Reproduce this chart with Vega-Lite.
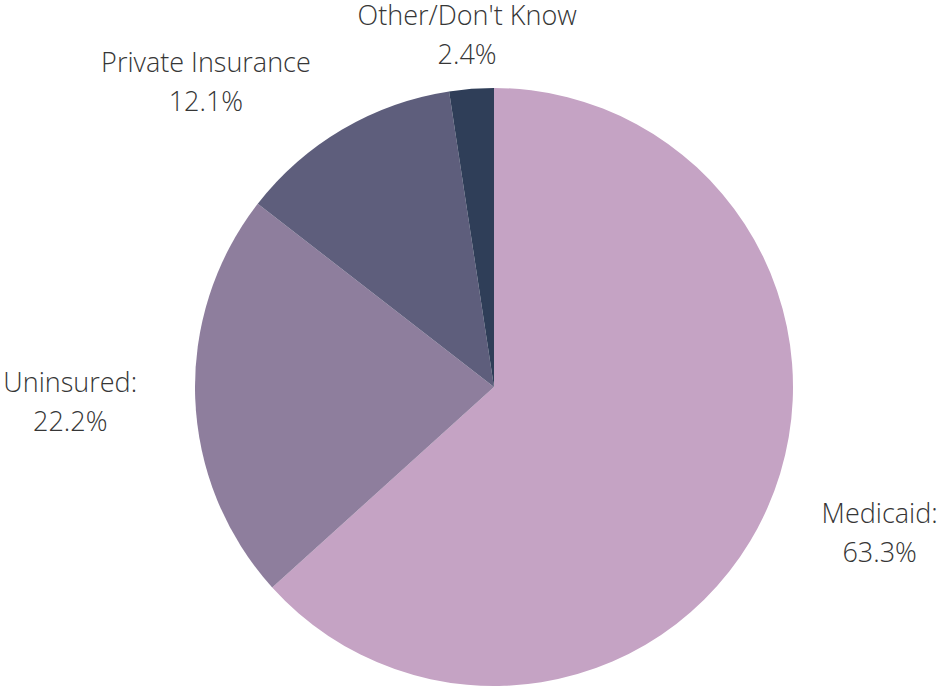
{
  "$schema": "https://vega.github.io/schema/vega-lite/v6.json",
  "width": 890,
  "height": 610,
  "padding": {"left": 49, "top": 82, "right": 0, "bottom": 0},
  "autosize": "none",
  "background": "white",
  "data": {
    "values": [
      {"group": "Medicaid", "share": 63.3, "label": "Medicaid:\n63.3%"},
      {"group": "Uninsured", "share": 22.2, "label": "Uninsured:\n22.2%"},
      {"group": "Private Insurance", "share": 12.1, "label": "Private Insurance\n12.1%"},
      {"group": "Other/Don't Know", "share": 2.4, "label": "Other/Don't Know\n2.4%"}
    ]
  },
  "encoding": {
    "theta": {"field": "share", "type": "quantitative", "stack": true},
    "order": {"field": "share", "type": "quantitative", "sort": "descending"}
  },
  "layer": [
    {
      "mark": {"type": "arc", "outerRadius": 299},
      "encoding": {
        "color": {
          "field": "group",
          "type": "nominal",
          "legend": null,
          "scale": {
            "domain": ["Medicaid", "Uninsured", "Private Insurance", "Other/Don't Know"],
            "range": ["#c5a3c4", "#8e7e9d", "#5e5e7c", "#2f3e58"]
          }
        }
      }
    },
    {
      "mark": {"type": "text", "radius": 330, "dx": 84, "dy": -6, "align": "center", "baseline": "middle", "lineBreak": "\n", "font": "Open Sans", "fontWeight": 300, "fontSize": 27, "lineHeight": 39, "color": "#363636"},
      "encoding": {"text": {"condition": {"test": "datum.group == 'Medicaid'", "field": "label"}, "value": ""}}
    },
    {
      "mark": {"type": "text", "radius": 330, "dx": -94, "dy": -15, "align": "center", "baseline": "middle", "lineBreak": "\n", "font": "Open Sans", "fontWeight": 300, "fontSize": 27, "lineHeight": 39, "color": "#363636"},
      "encoding": {"text": {"condition": {"test": "datum.group == 'Uninsured'", "field": "label"}, "value": ""}}
    },
    {
      "mark": {"type": "text", "radius": 330, "dx": -121, "dy": -38, "align": "center", "baseline": "middle", "lineBreak": "\n", "font": "Open Sans", "fontWeight": 300, "fontSize": 27, "lineHeight": 39, "color": "#363636"},
      "encoding": {"text": {"condition": {"test": "datum.group == 'Private Insurance'", "field": "label"}, "value": ""}}
    },
    {
      "mark": {"type": "text", "radius": 330, "dx": -2, "dy": -41, "align": "center", "baseline": "middle", "lineBreak": "\n", "font": "Open Sans", "fontWeight": 300, "fontSize": 27, "lineHeight": 39, "color": "#363636"},
      "encoding": {"text": {"condition": {"test": "datum.group == \"Other/Don't Know\"", "field": "label"}, "value": ""}}
    }
  ],
  "config": {"view": {"stroke": null}}
}
